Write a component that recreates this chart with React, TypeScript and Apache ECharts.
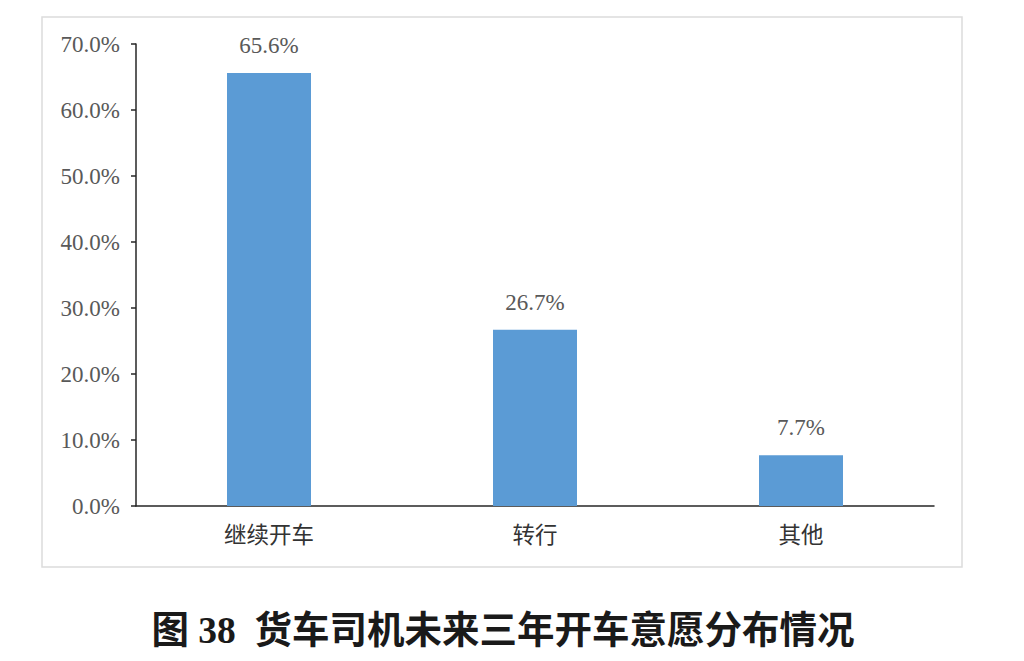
import { useEffect, useRef } from 'react'
import * as echarts from 'echarts'

const categories = ['继续开车', '转行', '其他']
const shares = [65.6, 26.7, 7.7]
const yTicks = { min: 0, max: 70, interval: 10 }
const caption = '图 38  货车司机未来三年开车意愿分布情况'

const serif = '"Liberation Serif", "Times New Roman", serif'
const cjk = '"Liberation Serif", "Noto Sans CJK SC", sans-serif'

export default function App(): JSX.Element {
  const chartRef = useRef<HTMLDivElement>(null)

  useEffect(() => {
    if (!chartRef.current) return
    const chart = echarts.init(chartRef.current, null, { renderer: 'svg' })

    const option: echarts.EChartsOption = {
      animation: false,
      backgroundColor: '#ffffff',
      grid: { left: 136, right: 90, top: 44, bottom: 155 },
      graphic: [
        {
          type: 'rect',
          shape: { x: 42, y: 17, width: 920, height: 550 },
          style: { fill: 'none', stroke: '#dcdcdc', lineWidth: 1.5 },
          silent: true
        },
        {
          type: 'text',
          x: 503,
          y: 630,
          style: {
            text: caption,
            font: `bold 37.5px ${cjk}`,
            fill: '#1a1a1a',
            align: 'center',
            verticalAlign: 'middle'
          }
        }
      ],
      xAxis: {
        type: 'category',
        data: categories,
        axisLine: { lineStyle: { color: '#262626', width: 1.5 } },
        axisTick: { show: false },
        axisLabel: {
          color: '#333333',
          fontSize: 22.5,
          fontFamily: '"Noto Sans CJK SC", sans-serif',
          margin: 16
        }
      },
      yAxis: {
        type: 'value',
        min: yTicks.min,
        max: yTicks.max,
        interval: yTicks.interval,
        axisLine: { show: true, lineStyle: { color: '#262626', width: 1.5 } },
        axisTick: { show: true, inside: false, length: 5, lineStyle: { color: '#262626', width: 1.5 } },
        splitLine: { show: false },
        axisLabel: {
          color: '#595959',
          fontSize: 23,
          fontFamily: serif,
          margin: 16,
          formatter: (v: number) => v.toFixed(1) + '%'
        }
      },
      series: [
        {
          type: 'bar',
          data: shares,
          barWidth: 84,
          itemStyle: { color: '#5b9bd5' },
          label: {
            show: true,
            position: 'top',
            distance: 16,
            color: '#595959',
            fontSize: 23,
            fontFamily: serif,
            formatter: (p: any) => Number(p.value).toFixed(1) + '%'
          }
        }
      ]
    }

    chart.setOption(option)
    return () => chart.dispose()
  }, [])

  return (
    <div
      ref={chartRef}
      style={{ position: 'fixed', left: 0, top: 0, width: 1024, height: 661 }}
    />
  )
}
